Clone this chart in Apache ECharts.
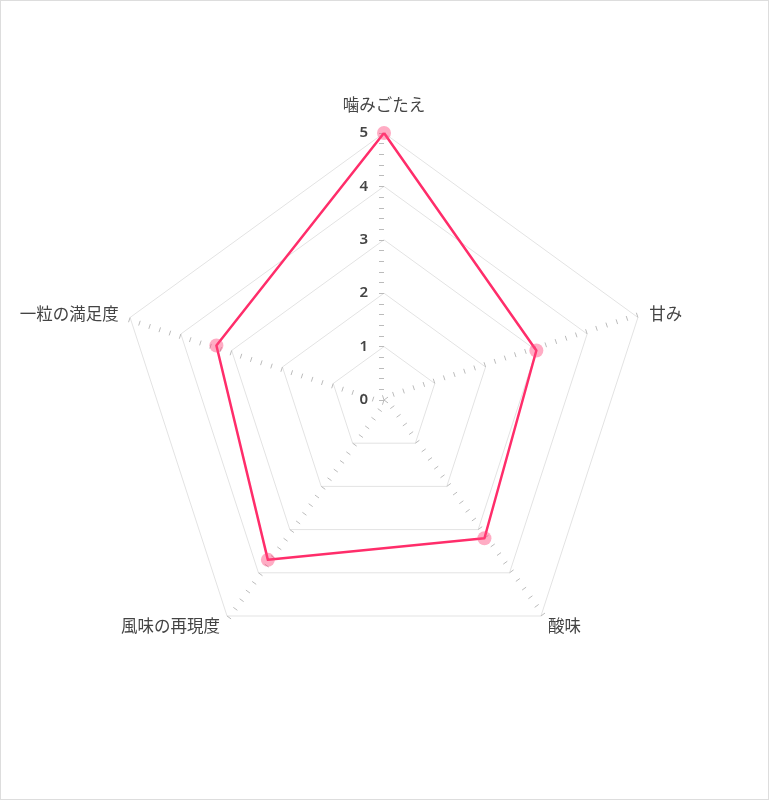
<!DOCTYPE html>
<html><head><meta charset="utf-8">
<script src="https://cdn.jsdelivr.net/npm/echarts@6/dist/echarts.min.js"></script>
<style>
html,body{margin:0;padding:0;background:#fff;}
#c{width:769px;height:800px;box-sizing:border-box;border:1px solid #ddd;}
</style></head>
<body><div id="c"></div>
<script>
// clockwise order, starting at top
const indicatorNames = ['噛みごたえ','甘み','酸味','風味の再現度','一粒の満足度'];
const maxValue = 5;
const scores = [5, 3, 3.2, 3.7, 3.3];

// ECharts radar runs counter-clockwise: reverse all but the first
const order = [0, 4, 3, 2, 1];

const chart = echarts.init(document.getElementById('c'), null, {renderer:'canvas'});
const indicators = order.map((k, i) => ({
  name: indicatorNames[k], min: 0, max: maxValue,
  axisLabel: { show: i === 0 },
  minorTick: { show: true, splitNumber: 5, length: 5, lineStyle: { color: '#bbb', width: 1 } }
}));
chart.setOption({
  animation: false,
  radar: {
    center: [383, 399],
    radius: 267,
    startAngle: 90,
    splitNumber: 5,
    indicator: indicators,
    nameGap: 12,
    axisName: { color: '#444', fontSize: 16.5, lineHeight: 32, fontFamily: 'Noto Sans CJK JP' },
    axisLine: { show: false },
    axisTick: { show: true, length: 5, lineStyle: { color: '#bbb' } },
    axisLabel: { show: true, color: '#444', fontSize: 15, fontWeight: 600, margin: 16, fontFamily: 'Noto Sans' },
    splitLine: { lineStyle: { color: '#e3e3e3', width: 1 } },
    splitArea: { show: false }
  },
  series: [{
    type: 'radar',
    symbol: 'circle',
    symbolSize: 14,
    itemStyle: { color: 'rgba(255,70,125,0.45)' },
    lineStyle: { color: '#ff2d6a', width: 2.5 },
    data: [{ value: order.map(k => scores[k]) }]
  }]
});
</script></body></html>
